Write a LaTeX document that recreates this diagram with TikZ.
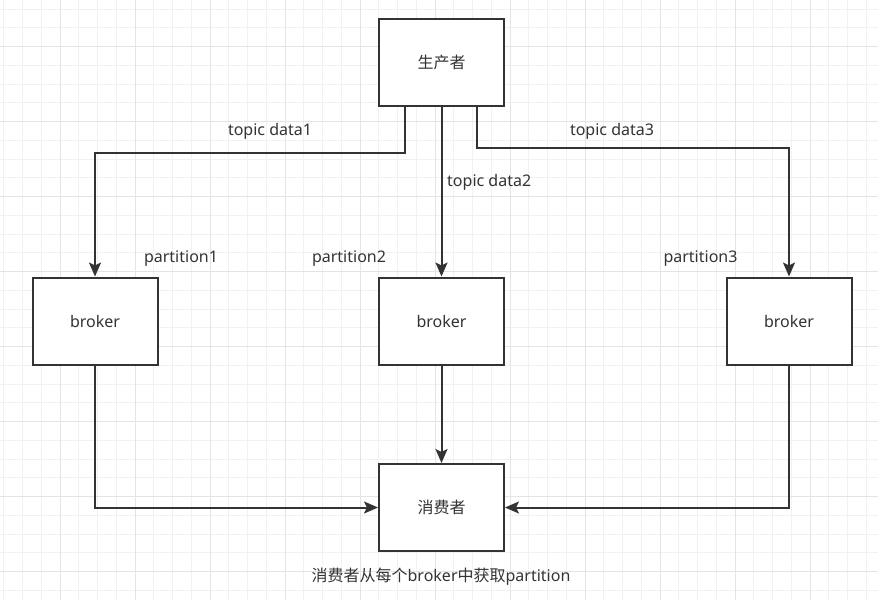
\documentclass[tikz,border=0pt]{standalone}
\usepackage{fontspec}
\setmainfont{Noto Sans}
\newfontfamily\cjk{Noto Sans CJK SC}
\usetikzlibrary{arrows.meta}
\definecolor{ink}{HTML}{333333}
\definecolor{gridminor}{HTML}{F1F1F1}
\definecolor{gridmajor}{HTML}{E4E4E4}
\tikzset{
  box/.style={draw=ink, line width=2pt, fill=white, minimum width=125pt, minimum height=87pt, inner sep=0pt, text=ink, font=\fontsize{16}{18}\selectfont},
  conn/.style={draw=ink, line width=2pt, -{Stealth[length=14pt,width=12pt,inset=3pt]}},
  lbl/.style={text=ink, inner sep=0pt, font=\fontsize{16}{18}\selectfont},
  minorline/.style={draw=gridminor, line width=1pt},
  majorline/.style={draw=gridmajor, line width=1pt}
}
\begin{document}
\begin{tikzpicture}[x=1pt, y=-1pt]
\useasboundingbox (0,0) rectangle (878,600);
\fill[white] (0,0) rectangle (878,600);
% grid
\foreach \i in {0,...,46} {\draw[minorline] ({3.75+18.75*\i},0) -- ({3.75+18.75*\i},600);}
\foreach \i in {0,...,32} {\draw[minorline] (0,{9.2+18.75*\i}) -- (878,{9.2+18.75*\i});}
\foreach \i in {0,...,10} {\draw[majorline] ({60+75*\i},0) -- ({60+75*\i},600);}
\foreach \i in {0,...,7} {\draw[majorline] (0,{46.7+75*\i}) -- (878,{46.7+75*\i});}
% nodes
\node[box] (p) at (441.5,62.5) {\cjk 生产者};
\node[box] (b1) at (95,321) {broker};
\node[box] (b2) at (441.5,321) {broker};
\node[box] (b3) at (789,321) {broker};
\node[box] (c) at (441.5,507.5) {\cjk 消费者};
% connectors
\draw[conn] ([xshift=-36.5pt]p.south) -- ++(0,45.7) -| (b1.north);
\draw[conn] (p.south) -- (b2.north);
\draw[conn] ([xshift=35.5pt]p.south) -- ++(0,41.3) -| (b3.north);
\draw[conn] (b1.south) |- (c.west);
\draw[conn] (b2.south) -- (c.north);
\draw[conn] (b3.south) |- (c.east);
% labels
\node[lbl] (t1) at (270,131) {topic data1};
\node[lbl, anchor=west] (t2) at (447,182) {topic data2};
\node[lbl] (t3) at (612,131) {topic data3};
\node[lbl] (l1) at (181,259) {partition1};
\node[lbl] (l2) at (349,259) {partition2};
\node[lbl] (l3) at (700.5,259) {partition3};
\node[lbl] (cap) at (441,577) {{\cjk 消费者从每个}broker{\cjk 中获取}partition};
\end{tikzpicture}
\end{document}
